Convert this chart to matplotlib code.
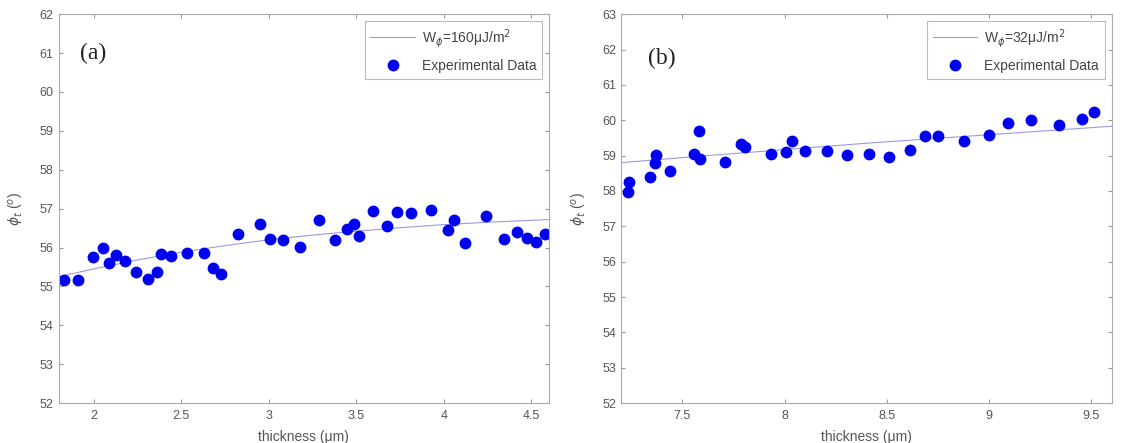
import numpy as np
import matplotlib.pyplot as plt

plt.rcParams['font.family'] = ['Liberation Sans', 'DejaVu Sans']
plt.rcParams['mathtext.fontset'] = 'dejavusans'

# panel (a) data
thick_a = [1.833, 1.913, 1.997, 2.055, 2.089, 2.128, 2.179, 2.241, 2.31, 2.363,
           2.386, 2.444, 2.534, 2.629, 2.68, 2.727, 2.824, 2.948, 3.01, 3.082,
           3.181, 3.287, 3.378, 3.449, 3.489, 3.513, 3.593, 3.674, 3.731, 3.813,
           3.929, 4.026, 4.056, 4.122, 4.238, 4.343, 4.419, 4.475, 4.527, 4.576]
phi_a = [55.17, 55.17, 55.75, 55.98, 55.60, 55.81, 55.66, 55.37, 55.20, 55.37,
         55.83, 55.78, 55.86, 55.86, 55.48, 55.33, 56.35, 56.60, 56.21, 56.19,
         56.01, 56.70, 56.19, 56.47, 56.60, 56.29, 56.94, 56.56, 56.91, 56.88,
         56.97, 56.44, 56.70, 56.12, 56.82, 56.21, 56.39, 56.24, 56.15, 56.35]
fit_x_a = [1.8, 2.0, 2.25, 2.5, 2.75, 3.0, 3.25, 3.5, 3.75, 4.0, 4.25, 4.6]
fit_y_a = [55.25, 55.45, 55.68, 55.88, 56.05, 56.20, 56.32, 56.42, 56.51, 56.59, 56.65, 56.72]

# panel (b) data
thick_b = [7.233, 7.238, 7.342, 7.368, 7.372, 7.441, 7.559, 7.58, 7.586, 7.708,
           7.786, 7.807, 7.934, 8.006, 8.038, 8.1, 8.21, 8.308, 8.412, 8.51,
           8.612, 8.689, 8.75, 8.879, 9.002, 9.092, 9.204, 9.344, 9.456, 9.516]
phi_b = [57.96, 58.26, 58.40, 58.79, 59.02, 58.56, 59.05, 59.71, 58.91, 58.81,
         59.33, 59.23, 59.05, 59.11, 59.40, 59.14, 59.14, 59.02, 59.05, 58.97,
         59.17, 59.56, 59.56, 59.42, 59.59, 59.93, 60.00, 59.87, 60.03, 60.23]
fit_x_b = [7.2, 7.6, 8.0, 8.4, 8.8, 9.2, 9.6]
fit_y_b = [58.80, 58.99, 59.17, 59.35, 59.51, 59.67, 59.83]

fig = plt.figure(figsize=(11.25, 4.43), dpi=100)
ax1 = fig.add_axes([0.052, 0.090, 0.436, 0.878])
ax2 = fig.add_axes([0.552, 0.090, 0.436, 0.878])

panels = [
    (ax1, thick_a, phi_a, fit_x_a, fit_y_a, 'W$_\\phi$=160μJ/m$^2$', (1.8, 4.6), (52, 62),
     np.arange(2, 4.6, 0.5), '(a)', (1.92, 61.0)),
    (ax2, thick_b, phi_b, fit_x_b, fit_y_b, 'W$_\\phi$=32μJ/m$^2$', (7.2, 9.6), (52, 63),
     np.arange(7.5, 9.6, 0.5), '(b)', (7.33, 61.75)),
]

for ax, x, y, fx, fy, lab, xl, yl, xt, tag, tpos in panels:
    ax.plot(fx, fy, color='#9a9ae0', lw=0.8, label=lab)
    ax.plot(x, y, 'o', color='#0000f0', ms=7.5, ls='none', label='Experimental Data')
    ax.set_xlim(*xl)
    ax.set_ylim(*yl)
    ax.set_xticks(xt)
    ax.set_xticklabels(['%g' % v for v in xt])
    ax.set_yticks(np.arange(yl[0], yl[1] + 1, 1))
    ax.tick_params(direction='in', length=3, top=True, right=True, colors='#999999',
                   labelcolor='#555555', labelsize=9)
    ax.tick_params(axis='x', pad=5)
    for s in ax.spines.values():
        s.set_color('#aaaaaa')
    ax.set_xlabel('thickness (μm)', color='#555555', fontsize=10, va='center')
    ax.xaxis.set_label_coords(0.5, -0.087)
    ax.set_ylabel(r'$\phi_t$ ($^o$)', color='#555555', fontsize=10, va='center')
    ax.yaxis.set_label_coords(-0.085, 0.5)
    ax.text(tpos[0], tpos[1], tag, family='Liberation Serif', fontsize=17, va='center', color='#222222')
    leg = ax.legend(loc='upper right', fontsize=10, frameon=True, fancybox=False,
                    borderaxespad=0.5, handlelength=3.2, handletextpad=0.5, labelspacing=0.7)
    leg.get_frame().set_edgecolor('#aaaaaa')
    leg.get_frame().set_linewidth(0.8)
    for t in leg.get_texts():
        t.set_color('#444444')

fig.savefig('out.png', dpi=100)
